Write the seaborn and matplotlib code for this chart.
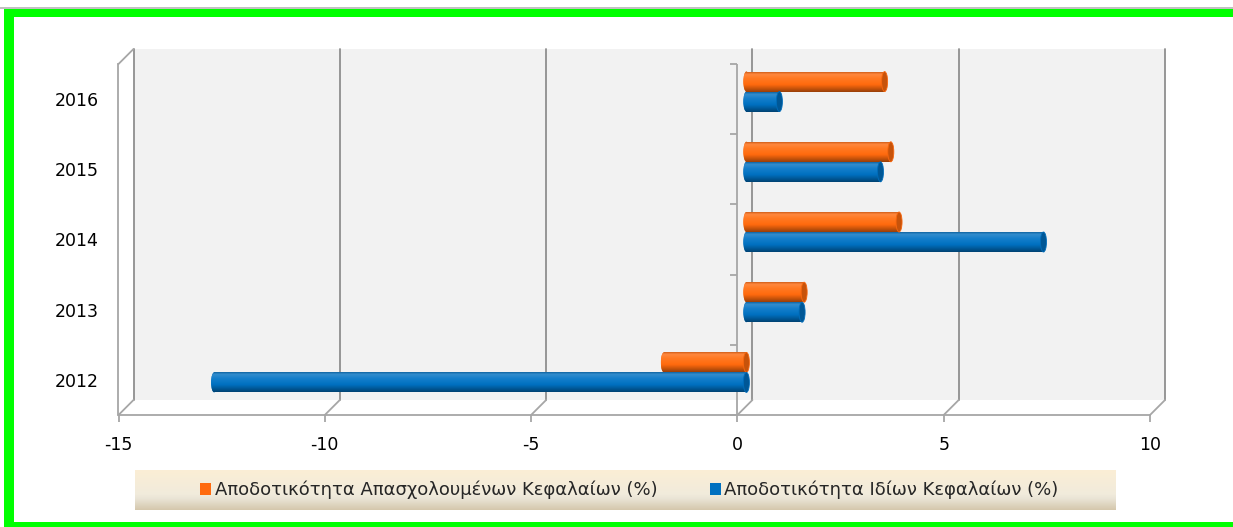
import numpy as np
import pandas as pd
import matplotlib
matplotlib.use("Agg")
import matplotlib.pyplot as plt
import seaborn as sns
from matplotlib.transforms import ScaledTranslation, IdentityTransform
from matplotlib.patches import Rectangle, Ellipse
from matplotlib.lines import Line2D
from matplotlib.markers import TICKLEFT
import matplotlib.colors as mcolors

# ---------------- data ----------------
years = ["2016", "2015", "2014", "2013", "2012"]
series_names = ["Αποδοτικότητα Απασχολουμένων Κεφαλαίων (%)",
                "Αποδοτικότητα Ιδίων Κεφαλαίων (%)"]
roce = [3.35, 3.5, 3.7, 1.4, -2.0]
roe = [0.8, 3.25, 7.2, 1.35, -12.9]
series_colors = ["#FF6A0E", "#0070C0"]
xticks = [-15, -10, -5, 0, 5, 10]

df = pd.DataFrame({
    "year": years * 2,
    "value": roce + roe,
    "series": [series_names[0]] * len(years) + [series_names[1]] * len(years),
})

# ---------------- style ----------------
sns.set_theme(style="white")
plt.rcParams["font.family"] = ["DejaVu Sans"]

W, H, DPI = 1233, 527, 100
fig = plt.figure(figsize=(W / DPI, H / DPI), dpi=DPI)
fig.patch.set_facecolor("white")

L, R, B, T = 118.5, 1150, 415, 64
ax = fig.add_axes([L / W, 1 - B / H, (R - L) / W, (B - T) / H])
ax.set_facecolor("none")

GRID = "#8f8f8f"
AXC = "#a6a6a6"
DX, DY = 15, 15      # depth of the back wall (px)
BX, BY = 9, 7.5      # depth of the bars (px)

sns.barplot(data=df, x="value", y="year", hue="series", order=years,
            hue_order=series_names, palette=series_colors, orient="h",
            width=0.57, errorbar=None, saturation=1, ax=ax,
            edgecolor="none", linewidth=0)

if ax.get_legend() is not None:
    ax.get_legend().remove()

ax.set_xlim(xticks[0], xticks[-1])
ax.set_ylim(len(years) - 0.5, -0.5)
ax.set_xlabel("")
ax.set_ylabel("")

off_back = ScaledTranslation(DX / DPI, DY / DPI, fig.dpi_scale_trans)
off_bar = ScaledTranslation(BX / DPI, BY / DPI, fig.dpi_scale_trans)

# back wall
ax.add_patch(Rectangle((0, 0), 1, 1, transform=ax.transAxes + off_back,
                       fc="#f2f2f2", ec="none", zorder=0.1, clip_on=False))
# back gridlines
for xv in xticks:
    ax.add_line(Line2D([xv, xv], [0, 1], transform=ax.get_xaxis_transform() + off_back,
                       color=GRID, lw=1.3, zorder=0.5, clip_on=False))

# spines / ticks
for s in ["top", "right"]:
    ax.spines[s].set_visible(False)
for s in ["left", "bottom"]:
    ax.spines[s].set_color(AXC)
    ax.spines[s].set_linewidth(1.3)
ax.set_xticks(xticks)
ax.set_xticklabels([str(v) for v in xticks])
ax.tick_params(axis="x", direction="out", length=5, width=1.3, color=AXC,
               pad=10, labelsize=12.5, labelcolor="black", bottom=True)
ax.tick_params(axis="y", length=0, pad=14, labelsize=12.5, labelcolor="black", left=True)

# zero axis with category-boundary ticks
ax.axvline(0, color=AXC, lw=1.3, zorder=1.5)
bounds = np.arange(-0.5, len(years), 1.0)
ax.plot([0] * len(bounds), bounds, ls="", marker=TICKLEFT, ms=5, mew=1.3,
        color=AXC, clip_on=False, zorder=1.5)

# floor / side diagonals (display coords)
fig.canvas.draw()
xt = ax.get_xaxis_transform()
for xv in xticks:
    px, py = xt.transform((xv, 0))
    fig.add_artist(Line2D([px, px + DX], [py, py + DY], transform=IdentityTransform(),
                          color=AXC, lw=1.3, zorder=1))
px, py = xt.transform((xticks[0], 1))
fig.add_artist(Line2D([px, px + DX], [py, py + DY], transform=IdentityTransform(),
                      color=AXC, lw=1.3, zorder=1))

# ---------------- cylinder shading ----------------
px_per_x = (R - L) / (xticks[-1] - xticks[0])
cw = 6.0 / px_per_x


def shade(base, n=64):
    rgb = np.array(mcolors.to_rgb(base))
    white = np.ones(3)
    stops = [(0.0, rgb * 0.75),
             (0.15, np.clip(rgb * 0.8 + white * 0.2, 0, 1)),
             (0.35, np.clip(rgb * 0.95 + white * 0.08, 0, 1)),
             (0.65, rgb),
             (1.0, rgb * 0.6)]
    t = np.linspace(0, 1, n)
    out = np.zeros((n, 1, 4))
    for c in range(3):
        out[:, 0, c] = np.interp(t, [s[0] for s in stops], [s[1][c] for s in stops])
    out[:, 0, 3] = 1.0
    return out


for ci, cont in enumerate(ax.containers[:2]):
    base = series_colors[ci]
    grad = shade(base)
    dark = np.array(mcolors.to_rgb(base)) * 0.78
    for p in cont:
        x, y, w, h = p.get_x(), p.get_y(), p.get_width(), p.get_height()
        x0, x1 = min(x, x + w), max(x, x + w)
        tr = ax.transData + off_bar
        p.set_transform(tr)
        p.set_zorder(3)
        im = ax.imshow(grad, extent=(x0, x1, y + h, y), origin="upper", aspect="auto",
                       transform=tr, zorder=3.1, interpolation="bilinear")
        im.set_clip_path(p)
        le = Ellipse((x0, y + h / 2), cw, h, transform=tr, fc=base, ec="none", zorder=3.0)
        ax.add_patch(le)
        im2 = ax.imshow(grad, extent=(x0 - cw / 2, x0 + cw / 2, y + h, y), origin="upper",
                        aspect="auto", transform=tr, zorder=3.05, interpolation="bilinear")
        im2.set_clip_path(le)
        ax.add_patch(Ellipse((x1, y + h / 2), cw, h, transform=tr, fc=dark,
                             ec=np.clip(dark * 1.25, 0, 1), lw=0.6, zorder=3.2))

ax.set_xlim(xticks[0], xticks[-1])
ax.set_ylim(len(years) - 0.5, -0.5)

# ---------------- legend ----------------
lx0, lx1, ly0, ly1 = 135, 1116, 470, 510
lax = fig.add_axes([lx0 / W, 1 - ly1 / H, (lx1 - lx0) / W, (ly1 - ly0) / H], zorder=-1)
top = np.array(mcolors.to_rgb("#fbeed5"))
mid = np.array(mcolors.to_rgb("#f1ebdc"))
bot = np.array(mcolors.to_rgb("#d5c8ad"))
tt = np.linspace(0, 1, 60)
lg = np.zeros((60, 1, 3))
for c in range(3):
    lg[:, 0, c] = np.interp(tt, [0, 0.6, 0.72, 1], [top[c], mid[c], mid[c] * 0.97, bot[c]])
lax.imshow(lg, aspect="auto", extent=(0, 1, 0, 1))
lax.set_axis_off()

leg_handles = [Rectangle((0, 0), 1, 1, fc=c, ec="none") for c in series_colors]
fig.legend(leg_handles, series_names, loc="center",
           bbox_to_anchor=((lx0 + lx1) / 2 / W + 4 / W, 1 - (ly0 + ly1) / 2 / H),
           ncol=2, frameon=False, fontsize=13, handlelength=0.6, handleheight=0.7,
           handletextpad=0.2, columnspacing=2.9)

# ---------------- frame decoration ----------------
fig.add_artist(Rectangle((0, 1 - 8.5 / H), 1, 2 / H, transform=fig.transFigure,
                         fc="#c0c0c0", ec="none", zorder=5))
fig.add_artist(Rectangle((4 / W, 1 - 17 / H), 1, 8.5 / H, transform=fig.transFigure,
                         fc="#00ff00", ec="none", zorder=5))
fig.add_artist(Rectangle((4 / W, 0), 10 / W, 1 - 9 / H, transform=fig.transFigure,
                         fc="#00ff00", ec="none", zorder=5))
fig.add_artist(Rectangle((4 / W, 0), 1, 5.5 / H, transform=fig.transFigure,
                         fc="#00ff00", ec="none", zorder=5))

fig.savefig("out.png", dpi=DPI, facecolor="white")
